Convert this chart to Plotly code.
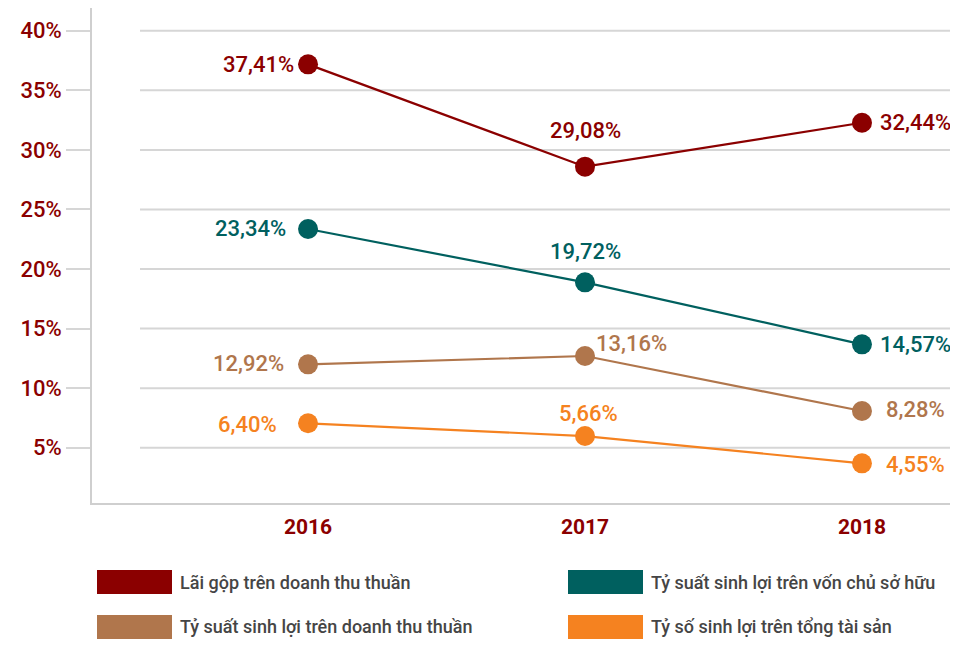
import plotly.graph_objects as go

years = [2016, 2017, 2018]
series_names = [
    "Lãi gộp trên doanh thu thuần",
    "Tỷ suất sinh lợi trên vốn chủ sở hữu",
    "Tỷ suất sinh lợi trên doanh thu thuần",
    "Tỷ số sinh lợi trên tổng tài sản",
]
# plotted positions (as drawn in the picture, %)
gross_margin = [37.18, 28.59, 32.28]
roe = [23.36, 18.88, 13.68]
ros = [12.00, 12.70, 8.08]
roa = [7.05, 5.98, 3.69]
# printed labels
gross_margin_labels = ["37,41%", "29,08%", "32,44%"]
roe_labels = ["23,34%", "19,72%", "14,57%"]
ros_labels = ["12,92%", "13,16%", "8,28%"]
roa_labels = ["6,40%", "5,66%", "4,55%"]
y_ticks = [5, 10, 15, 20, 25, 30, 35, 40]
y_tick_labels = ["5%", "10%", "15%", "20%", "25%", "30%", "35%", "40%"]


def pct(s):
    return s.replace("%", "&#37;")


colors = ["#8B0000", "#00605F", "#B0764C", "#F58220"]
values = [gross_margin, roe, ros, roa]
labels = [gross_margin_labels, roe_labels, ros_labels, roa_labels]
# label placement styles per point: (xanchor, xshift, yshift)
placements = [
    [("right", -12, 0), ("center", 0, 36), ("left", 16, 0)],
    [("right", -20, 0), ("center", 0, 31), ("left", 16, 0)],
    [("right", -22, 1), ("left", 9, 12), ("left", 22, 2)],
    [("right", -29, -1), ("center", 3, 23), ("left", 22, -1)],
]

FONT = "Roboto, sans-serif"

fig = go.Figure()
annotations = []
for name, vals, labs, col, plc in zip(series_names, values, labels, colors, placements):
    fig.add_trace(go.Scatter(
        x=years, y=vals, mode="lines+markers", name=name,
        line=dict(color=col, width=2.2),
        marker=dict(color=col, size=20),
        showlegend=False, hoverinfo="skip",
    ))
    for xv, yv, t, (xa, xs, ys) in zip(years, vals, labs, plc):
        annotations.append(dict(
            x=xv, y=yv, xref="x", yref="y", text=pct(t), showarrow=False,
            xanchor=xa, yanchor="middle", xshift=xs, yshift=ys,
            font=dict(family=FONT, size=22, color=col, weight=500),
        ))

shapes = []
for tv in y_ticks:
    shapes.append(dict(type="line", xref="paper", yref="y", x0=0.0558, x1=1.0,
                       y0=tv, y1=tv, line=dict(color="#D6D6D6", width=2), layer="below"))

# manual legend (figure pixel positions of swatches)
W, H = 950, 638
ml, mr, mt, mb = 84, 6, 0, 143
pw, ph = W - ml - mr, H - mt - mb
leg_pos = [(89, 562), (560, 562), (89, 607), (560, 607)]
for name, col, (lx, ly) in zip(series_names, colors, leg_pos):
    x0 = (lx - ml) / pw
    x1 = (lx + 75 - ml) / pw
    ytop = 1 - (ly - mt) / ph
    ybot = 1 - (ly + 24 - mt) / ph
    shapes.append(dict(type="rect", xref="paper", yref="paper", x0=x0, x1=x1,
                       y0=ybot, y1=ytop, fillcolor=col, line=dict(width=0)))
    annotations.append(dict(x=(lx + 81 - ml) / pw, y=(ytop + ybot) / 2, xref="paper", yref="paper",
                            text=name, showarrow=False, xanchor="left", yanchor="middle",
                            font=dict(family=FONT, size=18, color="#454545", weight=500)))

fig.update_layout(
    width=W, height=H,
    margin=dict(l=ml, r=mr, t=mt, b=mb),
    paper_bgcolor="white", plot_bgcolor="white",
    shapes=shapes, annotations=annotations,
    xaxis=dict(range=[2015.22, 2018.325], tickvals=years, ticktext=[str(y) for y in years],
               showgrid=False, zeroline=False,
               showline=True, linecolor="#CFCFCF", linewidth=2, automargin=False,
               ticks="outside", ticklen=4, tickcolor="rgba(0,0,0,0)",
               tickfont=dict(family=FONT, size=21, color="#8B0000", weight=700)),
    yaxis=dict(range=[0.36, 41.91], tickvals=y_ticks, ticktext=[pct(t) for t in y_tick_labels],
               showgrid=False, zeroline=False, showline=True, linecolor="#CFCFCF", linewidth=2,
               automargin=False,
               ticks="outside", ticklen=24, tickcolor="#D6D6D6", tickwidth=2, ticklabelstandoff=0,
               tickfont=dict(family=FONT, size=22, color="#8B0000", weight=500)),
)
fig.write_html("out.html")
